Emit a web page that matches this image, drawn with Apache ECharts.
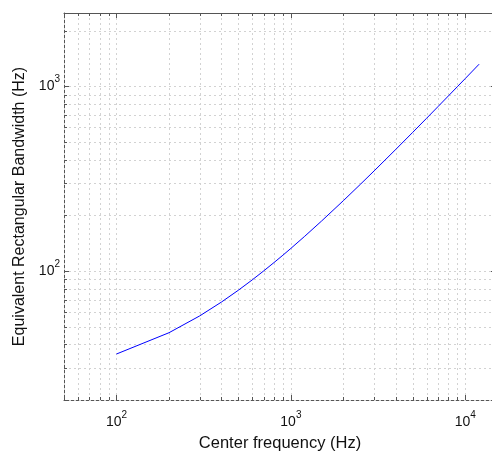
<!DOCTYPE html>
<html><head><meta charset="utf-8">
<script src="https://cdn.jsdelivr.net/npm/echarts@6/dist/echarts.min.js"></script>
<style>html,body{margin:0;padding:0;background:#fff}#c{width:492px;height:454px}</style>
</head><body><div id="c"></div>
<script>
// Center frequencies (Hz) and ERB values (Hz)
const freqs = [100,200,300,400,500,600,700,800,900,1000,1200,1500,2000,2500,3000,4000,5000,6000,7000,8000,9000,10000,11000,12000];
const erb   = [35.5,46.3,57.1,67.9,78.7,89.5,100.3,111.1,121.8,132.6,154.2,186.6,240.6,294.6,348.5,456.5,564.4,672.3,780.3,888.2,996.2,1104,1212,1320];

const xMajor = [100,1000,10000];
const xMinor = [50,60,70,80,90,200,300,400,500,600,700,800,900,2000,3000,4000,5000,6000,7000,8000,9000];
const yMajor = [100,1000];
const yMinor = [20,30,40,50,60,70,80,90,200,300,400,500,600,700,800,900,2000];

const X_MIN = 50, X_MAX = 15000, Y_MIN = 20, Y_MAX = 2500;
const FONT = "'Liberation Sans', Arial, Helvetica, sans-serif";
const GRID_C = '#d2d2d2', AXIS_C = '#555';

function pow10Label(v){
  const e = Math.log10(v);
  if (Math.abs(e - Math.round(e)) > 1e-6) return '';
  return '{a|10}{b|' + Math.round(e) + '}';
}
const rich = {
  a:{fontSize:14, color:'#111', fontFamily:FONT},
  b:{fontSize:10, color:'#111', fontFamily:FONT, padding:[0,0,14,0]}
};

function xTickItem(params, api){
  const v = api.value(0), major = api.value(2);
  const cs = params.coordSys;
  const x = Math.round(api.coord([v, Y_MIN])[0]) + 0.5;
  const top = cs.y, bot = cs.y + cs.height;
  const len = major ? 5 : 3;
  return {type:'group', children:[
    {type:'line', shape:{x1:x,y1:top,x2:x,y2:bot}, style:{stroke:GRID_C, lineWidth:1, lineDash:[2,3]}},
    {type:'line', shape:{x1:x,y1:bot,x2:x,y2:bot-len}, style:{stroke:AXIS_C, lineWidth:1}},
    {type:'line', shape:{x1:x,y1:top,x2:x,y2:top+len}, style:{stroke:AXIS_C, lineWidth:1}}
  ]};
}
function yTickItem(params, api){
  const v = api.value(1), major = api.value(2);
  const cs = params.coordSys;
  const y = Math.round(api.coord([X_MIN, v])[1]) + 0.5;
  const l = cs.x, r = cs.x + cs.width;
  const len = major ? 5 : 3;
  return {type:'group', children:[
    {type:'line', shape:{x1:l,y1:y,x2:r,y2:y}, style:{stroke:GRID_C, lineWidth:1, lineDash:[2,3]}},
    {type:'line', shape:{x1:l,y1:y,x2:l+len,y2:y}, style:{stroke:AXIS_C, lineWidth:1}},
    {type:'line', shape:{x1:r,y1:y,x2:r-len,y2:y}, style:{stroke:AXIS_C, lineWidth:1}}
  ]};
}

const xTickData = xMajor.map(v=>[v, Y_MIN, 1]).concat(xMinor.map(v=>[v, Y_MIN, 0]));
const yTickData = yMajor.map(v=>[X_MIN, v, 1]).concat(yMinor.map(v=>[X_MIN, v, 0]));

const chart = echarts.init(document.getElementById('c'), null, {renderer:'canvas'});
chart.setOption({
  animation:false,
  backgroundColor:'#fff',
  textStyle:{fontFamily:FONT},
  grid:{left:64, top:13, width:432, height:387, containLabel:false, outerBoundsMode:'none'},
  xAxis:[{
    type:'log', logBase:10, min:X_MIN, max:X_MAX, position:'bottom',
    name:'Center frequency (Hz)', nameLocation:'middle', nameGap:35,
    nameTextStyle:{fontSize:16.5, color:'#111', fontFamily:FONT},
    axisLine:{show:true, lineStyle:{color:AXIS_C, width:1}},
    axisTick:{show:false}, splitLine:{show:false}, minorTick:{show:false},
    axisLabel:{formatter:pow10Label, rich:rich, margin:10, showMinLabel:true, showMaxLabel:true}
  },{
    type:'log', logBase:10, min:X_MIN, max:X_MAX, position:'top',
    axisLine:{show:true, lineStyle:{color:AXIS_C, width:1}},
    axisTick:{show:false}, splitLine:{show:false}, axisLabel:{show:false}
  }],
  yAxis:[{
    type:'log', logBase:10, min:Y_MIN, max:Y_MAX, position:'left',
    name:'Equivalent Rectangular Bandwidth (Hz)', nameLocation:'middle', nameGap:35,
    nameTextStyle:{fontSize:16, color:'#111', fontFamily:FONT},
    axisLine:{show:true, lineStyle:{color:AXIS_C, width:1}},
    axisTick:{show:false}, splitLine:{show:false}, minorTick:{show:false},
    axisLabel:{formatter:pow10Label, rich:rich, margin:4}
  },{
    type:'log', logBase:10, min:Y_MIN, max:Y_MAX, position:'right',
    axisLine:{show:true, lineStyle:{color:AXIS_C, width:1}},
    axisTick:{show:false}, splitLine:{show:false}, axisLabel:{show:false}
  }],
  series:[
    {type:'custom', renderItem:xTickItem, data:xTickData, silent:true, z:1, clip:false},
    {type:'custom', renderItem:yTickItem, data:yTickData, silent:true, z:1, clip:false},
    {type:'line', data:freqs.map((f,i)=>[f, erb[i]]), showSymbol:false, symbol:'none',
     lineStyle:{color:'#0000ff', width:1}, z:3, silent:true}
  ]
});
</script>
</body></html>
